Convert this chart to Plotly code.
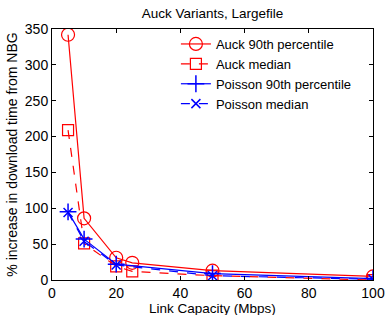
import plotly.graph_objects as go

x_auck = [5, 10, 20, 25, 50, 100]
auck_p90 = [342, 86, 31, 24, 13, 5]
auck_med = [209, 51, 19, 12, 6, 0]
x_poisson = [5, 10, 20, 50, 100]
poisson_p90 = [95, 57, 22, 9, 2]
poisson_med = [94, 54, 21, 6, 1]

RED = "#ff0000"
BLUE = "#0000ff"
fig = go.Figure()
fig.add_trace(go.Scatter(x=x_auck, y=auck_p90, name="Auck 90th percentile", mode="lines+markers",
                         line=dict(color=RED, width=1.2),
                         marker=dict(symbol="circle-open", size=13, color=RED, line=dict(width=1.2))))
fig.add_trace(go.Scatter(x=x_auck, y=auck_med, name="Auck median", mode="lines+markers",
                         line=dict(color=RED, width=1.2, dash="dash"),
                         marker=dict(symbol="square-open", size=11, color=RED, line=dict(width=1.2))))
fig.add_trace(go.Scatter(x=x_poisson, y=poisson_p90, name="Poisson 90th percentile", mode="lines+markers",
                         line=dict(color=BLUE, width=1.2),
                         marker=dict(symbol="cross-thin-open", size=12, color=BLUE, line=dict(width=1.5, color=BLUE))))
fig.add_trace(go.Scatter(x=x_poisson, y=poisson_med, name="Poisson median", mode="lines+markers",
                         line=dict(color=BLUE, width=1.2, dash="dash"),
                         marker=dict(symbol="x-thin-open", size=9, color=BLUE, line=dict(width=1.5, color=BLUE))))

axis_common = dict(showgrid=False, zeroline=False, showline=True, linecolor="black", linewidth=1,
                   mirror="ticks", ticks="inside", ticklen=4, tickcolor="black", automargin=False,
                   ticklabeloverflow="allow", tickfont=dict(size=14, color="black"))
W, H = 385, 315
fig.update_layout(
    width=W, height=H,
    margin=dict(l=52, r=12, t=29, b=35, autoexpand=False),
    paper_bgcolor="white", plot_bgcolor="white",
    font=dict(family="Liberation Sans, Arial, sans-serif", color="black"),
    title=dict(text="Auck Variants, Largefile", xref="paper", x=0.5, xanchor="center",
               yref="container", y=1 - 13 / H, yanchor="middle",
               font=dict(size=13.5, color="black")),
    xaxis=dict(range=[0, 100], dtick=20, **axis_common),
    yaxis=dict(range=[0, 350], dtick=50,
               title=dict(text="% increase in download time from NBG", font=dict(size=14), standoff=3),
               **axis_common),
    legend=dict(x=0.386, y=1.0, xanchor="left", yanchor="top", bgcolor="rgba(0,0,0,0)",
                font=dict(size=13, color="black"), tracegroupgap=0),
    annotations=[dict(text="Link Capacity (Mbps)", xref="paper", yref="paper", x=0.5, y=-28 / 251,
                      xanchor="center", yanchor="middle", showarrow=False, font=dict(size=13.5))],
)
fig.write_html("out.html", config={"displayModeBar": False},
               post_script="document.body.style.margin='0';document.body.style.overflow='hidden';")
